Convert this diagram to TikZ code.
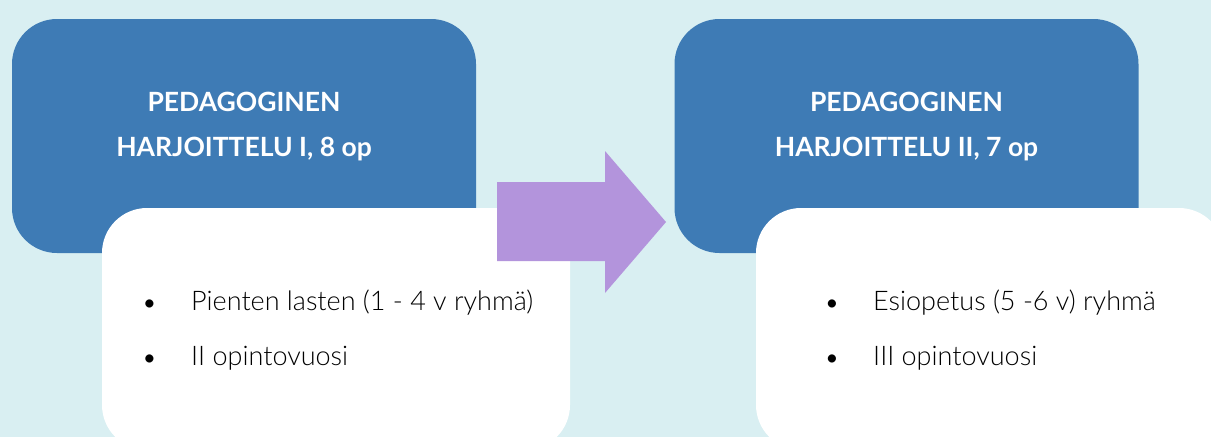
\documentclass[tikz,border=0pt]{standalone}
\usepackage{fontspec}
\setmainfont{Lato}
\newfontfamily\lightfont{Lato Light}
\definecolor{bgcyan}{HTML}{D9EFF2}
\definecolor{stageblue}{HTML}{3E7BB5}
\definecolor{steppurple}{HTML}{B394DC}
\tikzset{
  titlebox/.style={fill=stageblue, rounded corners=45pt, minimum width=464pt, minimum height=234pt, inner sep=0pt},
  listbox/.style={fill=white, rounded corners=45pt, minimum width=468pt, minimum height=242pt, inner sep=0pt},
  titletext/.style={text=white, font=\bfseries\fontsize{26.5}{26.5}\selectfont, anchor=base, inner sep=0pt},
  itemtext/.style={font=\lightfont\fontsize{27}{27}\selectfont, anchor=base west, inner sep=0pt},
  bullettext/.style={font=\fontsize{22}{22}\selectfont, anchor=base, inner sep=0pt},
}
\begin{document}
\begin{tikzpicture}[x=1pt, y=-1pt]
  \fill[bgcyan] (0,0) rectangle (1211,437);
  \useasboundingbox (0,0) rectangle (1211,437);
  \clip (0,0) rectangle (1211,437);

  % first stage
  \node[titlebox] (t1) at (244,136) {};
  \node[titletext] (t1a) at (244,111) {PEDAGOGINEN};
  \node[titletext] (t1b) at (244,156) {HARJOITTELU I, 8 op};
  \node[listbox] (l1) at (336,329) {};
  \node[bullettext] (d1a) at (149.5,310) {•};
  \node[itemtext] (i1a) at (191,310) {Pienten lasten (1 - 4 v ryhmä)};
  \node[bullettext] (d1b) at (149.5,365) {•};
  \node[itemtext] (i1b) at (191,365) {II opintovuosi};

  % block arrow between the stages
  \fill[steppurple] (497,182) -- (605,182) -- (605,151) -- (666,222)
    -- (605,293) -- (605,261) -- (497,261) -- cycle;

  % second stage
  \node[titlebox] (t2) at (906.5,136) {};
  \node[titletext] (t2a) at (906.5,111) {PEDAGOGINEN};
  \node[titletext] (t2b) at (906.5,156) {HARJOITTELU II, 7 op};
  \node[listbox] (l2) at (990,329) {};
  \node[bullettext] (d2a) at (832,310) {•};
  \node[itemtext] (i2a) at (873,310) {Esiopetus (5 -6 v) ryhmä};
  \node[bullettext] (d2b) at (832,365) {•};
  \node[itemtext] (i2b) at (873,365) {III opintovuosi};
\end{tikzpicture}
\end{document}
